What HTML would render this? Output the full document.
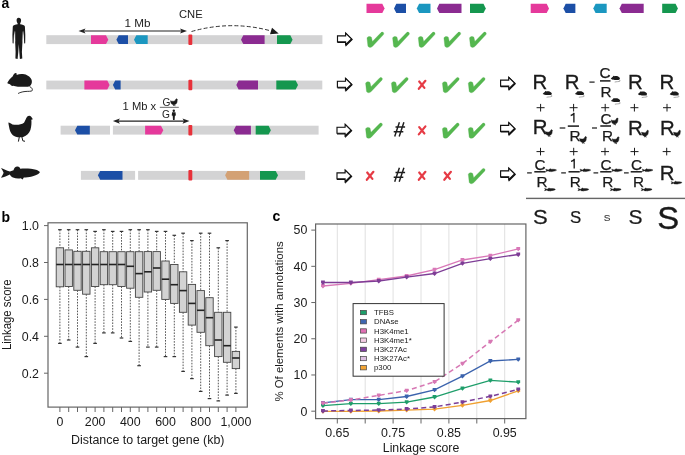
<!DOCTYPE html>
<html><head><meta charset="utf-8"><style>
html,body{margin:0;padding:0;background:#fff;}
body{width:685px;height:455px;overflow:hidden;font-family:"Liberation Sans",sans-serif;}
svg{display:block;will-change:transform;}
</style></head><body>
<svg width="685" height="455" viewBox="0 0 685 455">
<rect width="685" height="455" fill="#fff"/>
<text x="1.6" y="7.7" font-size="14" font-weight="bold" font-family="Liberation Sans, sans-serif">a</text>
<path d="M366.5,3.8H382.3L384.6,8.4L382.3,13.0H366.5Z" fill="#e5399b"/>
<path d="M406,3.8H396.3L394,8.4L396.3,13.0H406Z" fill="#1c4fa6"/>
<path d="M430.5,3.8H419.1L416.8,8.4L419.1,13.0H430.5Z" fill="#1b97c0"/>
<path d="M461.5,3.8H439.3L437,8.4L439.3,13.0H461.5Z" fill="#8b2b91"/>
<path d="M470,3.8H483.5L485.8,8.4L483.5,13.0H470Z" fill="#15974f"/>
<path d="M530.7,3.8H546.7L549,8.4L546.7,13.0H530.7Z" fill="#e5399b"/>
<path d="M575.4,3.8H565.6999999999999L563.4,8.4L565.6999999999999,13.0H575.4Z" fill="#1c4fa6"/>
<path d="M606.7,3.8H595.5999999999999L593.3,8.4L595.5999999999999,13.0H606.7Z" fill="#1b97c0"/>
<path d="M643.7,3.8H621.8L619.5,8.4L621.8,13.0H643.7Z" fill="#8b2b91"/>
<path d="M662.2,3.8H675.6L677.9,8.4L675.6,13.0H662.2Z" fill="#15974f"/>
<rect x="46.3" y="35.2" width="276.09999999999997" height="8.899999999999999" fill="#d3d3d4"/>
<path d="M91,35.2H106.0L108.3,39.650000000000006L106.0,44.1H91Z" fill="#e5399b"/>
<path d="M128,35.2H118.7L116.4,39.650000000000006L118.7,44.1H128Z" fill="#1c4fa6"/>
<path d="M147.7,35.2H136.3L134,39.650000000000006L136.3,44.1H147.7Z" fill="#1b97c0"/>
<path d="M264.6,35.2H243.3L241,39.650000000000006L243.3,44.1H264.6Z" fill="#8b2b91"/>
<path d="M277,35.2H290.3L292.6,39.650000000000006L290.3,44.1H277Z" fill="#15974f"/>
<rect x="188.4" y="34.400000000000006" width="3.9" height="10.499999999999998" rx="1" fill="#e8313a"/>
<rect x="46.3" y="80.6" width="276.0" height="8.800000000000011" fill="#d3d3d4"/>
<path d="M84.4,80.6H107.3L109.6,85.0L107.3,89.4H84.4Z" fill="#e5399b"/>
<path d="M120.6,80.6H115.2L112.9,85.0L115.2,89.4H120.6Z" fill="#1c4fa6"/>
<path d="M258,80.6H238.60000000000002L236.3,85.0L238.60000000000002,89.4H258Z" fill="#8b2b91"/>
<path d="M276.3,80.6H295.7L298,85.0L295.7,89.4H276.3Z" fill="#15974f"/>
<rect x="188.4" y="79.8" width="3.9" height="10.400000000000011" rx="1" fill="#e8313a"/>
<rect x="60.6" y="125.7" width="49.4" height="8.899999999999991" fill="#d3d3d4"/>
<rect x="112.9" y="125.7" width="205.70000000000002" height="8.899999999999991" fill="#d3d3d4"/>
<path d="M89.8,125.7H77.3L75,130.15L77.3,134.6H89.8Z" fill="#1c4fa6"/>
<path d="M145.1,125.7H161.0L163.3,130.15L161.0,134.6H145.1Z" fill="#e5399b"/>
<path d="M250.9,125.7H236.0L233.7,130.15L236.0,134.6H250.9Z" fill="#8b2b91"/>
<path d="M255.7,125.7H268.59999999999997L270.9,130.15L268.59999999999997,134.6H255.7Z" fill="#15974f"/>
<rect x="188.4" y="124.9" width="3.9" height="10.499999999999991" rx="1" fill="#e8313a"/>
<rect x="80.9" y="170.9" width="54.19999999999999" height="8.900000000000006" fill="#d3d3d4"/>
<rect x="138.1" y="170.9" width="167.00000000000003" height="8.900000000000006" fill="#d3d3d4"/>
<path d="M122.5,170.9H100.2L97.9,175.35000000000002L100.2,179.8H122.5Z" fill="#1c4fa6"/>
<path d="M249.1,170.9H227.4L225.1,175.35000000000002L227.4,179.8H249.1Z" fill="#d3a174"/>
<path d="M260,170.9H275.7L278,175.35000000000002L275.7,179.8H260Z" fill="#15974f"/>
<rect x="188.4" y="170.1" width="3.9" height="10.500000000000005" rx="1" fill="#e8313a"/>
<line x1="81.5" y1="31" x2="184" y2="31" stroke="#222" stroke-width="1.1"/><path d="M78.5,31L85.5,28.4L84.0,31L85.5,33.6Z" fill="#222"/><path d="M187,31L180,28.4L181.5,31L180,33.6Z" fill="#222"/>
<line x1="115.9" y1="121.1" x2="186.5" y2="121.1" stroke="#222" stroke-width="1.1"/><path d="M112.9,121.1L119.9,118.5L118.4,121.1L119.9,123.69999999999999Z" fill="#222"/><path d="M189.5,121.1L182.5,118.5L184.0,121.1L182.5,123.69999999999999Z" fill="#222"/>
<path d="M191.5,31.5 Q232,20 272,31.2" fill="none" stroke="#333" stroke-width="1" stroke-dasharray="4,2.2"/>
<path d="M278.7,33.6L270.0,34.2L272.0,27.8Z" fill="#1a1a1a"/>
<text x="124.6" y="26.9" font-size="11.7" font-family="Liberation Sans, sans-serif" fill="#222">1 Mb</text>
<text x="179" y="17.9" font-size="11.2" font-family="Liberation Sans, sans-serif" fill="#222">CNE</text>
<text x="122.6" y="110.2" font-size="11.2" font-family="Liberation Sans, sans-serif" fill="#222">1 Mb x</text>
<text x="162.4" y="105.5" font-size="10.2" font-family="Liberation Sans, sans-serif" fill="#222">G</text>
<text x="162.0" y="118.4" font-size="10.2" font-family="Liberation Sans, sans-serif" fill="#222">G</text>
<rect x="159.8" y="106.8" width="19" height="1.1" fill="#777"/>
<path d="M18.6,17.8 C17.2,17.8 16.6,18.9 16.6,20.3 C16.6,21.6 17.1,22.6 17.6,23.3 L17.6,24.2 C15.5,24.6 13.2,24.8 12.8,26.5 L12.4,35 L12.6,43.2 L13.6,43.4 L13.9,35.5 L14.6,30.5 L15.2,42.8 L15.6,52 L15.4,58.4 L17.6,59 L18.3,52 L18.8,44 L19.3,52 L19.9,59 L22.3,58.6 L21.9,52 L22.4,42.8 L23.1,30.5 L23.8,35.5 L24.2,43.4 L25.2,43.2 L25.3,35 L24.9,26.5 C24.5,24.8 22.2,24.6 20.2,24.2 L20.2,23.3 C20.7,22.6 21.1,21.6 21.1,20.3 C21.1,18.9 20.3,17.8 18.6,17.8Z" fill="#1a1a1a"/>
<path d="M15.1,31.5 L15.3,41.5 M22.6,31.5 L22.4,41.5" stroke="#fff" stroke-width="0.45" stroke-opacity="0.6" fill="none"/>
<path d="M7.3,83.1 C8.5,80.5 10,78.5 12.8,76.2 C13.4,74.5 14.6,73 15.9,73.1 C16.8,73.2 16.9,74.2 16.6,74.9 C19.5,73.8 24,73.8 27,75.2 C30.2,76.8 32.2,79.2 31.9,82 C31.7,84.5 30.2,86.3 28,86.7 L18,86.7 C16,86.6 14.5,86.2 13.2,85.8 L12.2,86 C11.2,85.6 10.5,84.9 10,84.3 C9,84.2 7.8,83.9 7.3,83.1Z" fill="#1a1a1a"/>
<path d="M29.6,86.6 C31.5,87.3 32.8,89 32.2,90.6 C31.4,91.6 28,91.2 25,91.5 C22,91.8 19.5,92.7 18.1,93.5" fill="none" stroke="#1a1a1a" stroke-width="0.9"/>
<path d="M8.4,122.6 C9.8,122.6 11,123.8 12.4,124.4 C16,125.3 21,125 24,122.8 C25.2,121.4 25.8,118.2 27.3,116.6 C28.5,115.4 30.3,115.5 31.2,116.8 L32.9,119.2 L31.3,119.7 C31.7,122 31.5,126.5 30.4,130 C29.2,133.2 26.8,135.8 23.2,136.9 C19.5,137.8 15,137.2 12.6,135 C10.6,133.2 9.4,129.5 9.0,126.5 C8.7,124.8 8.4,123.6 8.4,122.6Z" fill="#1a1a1a"/>
<path d="M19.4,136.5 L18.4,141.6 M21.8,136.5 L22.8,140.8 L25,141.3" fill="none" stroke="#1a1a1a" stroke-width="1"/>
<path d="M1,167.9 C3.5,168.8 6.5,170.4 9.9,171.6 L13.5,170.2 C14,167.8 15.5,166.3 17.5,166.4 C19.2,166.5 20,167.5 20.3,168.7 C26,168.2 32,168.7 36,169.8 C38,170.5 39.5,171.4 39.9,172.2 C39,173.8 36.5,175.2 32,176.4 C29,177.1 26,177.4 23.8,177.6 L22.6,179.6 L20.8,178.3 C18.5,178.6 15.5,178.6 13,177.6 C11.5,177 10.5,176 9.9,174.6 C7,176 4,177.3 1,177.8 C2.2,175.8 3.2,174.2 3.6,172.8 C3.1,171.2 2.2,169.5 1,167.9Z" fill="#1a1a1a"/>
<g transform="translate(168.06,67.61) scale(0.29,0.27)"><path d="M8.4,122.6 C9.8,122.6 11,123.8 12.4,124.4 C16,125.3 21,125 24,122.8 C25.2,121.4 25.8,118.2 27.3,116.6 C28.5,115.4 30.3,115.5 31.2,116.8 L32.9,119.2 L31.3,119.7 C31.7,122 31.5,126.5 30.4,130 C29.2,133.2 26.8,135.8 23.2,136.9 C19.5,137.8 15,137.2 12.6,135 C10.6,133.2 9.4,129.5 9.0,126.5 C8.7,124.8 8.4,123.6 8.4,122.6Z" fill="#1a1a1a" stroke="#1a1a1a" stroke-width="1.5"/><path d="M19.4,136.5 L18.4,141.6 M21.8,136.5 L22.8,140.8 L25,141.3" fill="none" stroke="#1a1a1a" stroke-width="3"/></g>
<g transform="translate(171.6,109.6) scale(1.0)"><circle cx="2.2" cy="1.2" r="1.2" fill="#1a1a1a"/><path d="M0.5,2.6 H3.9 L4.3,6 L3.3,6.2 L3,10.4 H1.4 L1.1,6.2 L0.1,6Z" fill="#1a1a1a"/></g>
<path d="M337.5,35.9H345.6V33.1L351.5,38.9L345.6,44.699999999999996V41.9H337.5Z" transform="translate(0.6,0.6)" fill="#111" stroke="#111" stroke-width="1.2" stroke-linejoin="miter" stroke-miterlimit="3"/><path d="M337.5,35.9H345.6V33.1L351.5,38.9L345.6,44.699999999999996V41.9H337.5Z" fill="#fff" stroke="#111" stroke-width="1.15" stroke-linejoin="miter" stroke-miterlimit="3"/>
<path d="M337.4,81.2H345.5V78.4L351.4,84.2L345.5,90.0V87.2H337.4Z" transform="translate(0.6,0.6)" fill="#111" stroke="#111" stroke-width="1.2" stroke-linejoin="miter" stroke-miterlimit="3"/><path d="M337.4,81.2H345.5V78.4L351.4,84.2L345.5,90.0V87.2H337.4Z" fill="#fff" stroke="#111" stroke-width="1.15" stroke-linejoin="miter" stroke-miterlimit="3"/>
<path d="M337.0,127.19999999999999H345.1V124.39999999999999L351.0,130.2L345.1,136.0V133.2H337.0Z" transform="translate(0.6,0.6)" fill="#111" stroke="#111" stroke-width="1.2" stroke-linejoin="miter" stroke-miterlimit="3"/><path d="M337.0,127.19999999999999H345.1V124.39999999999999L351.0,130.2L345.1,136.0V133.2H337.0Z" fill="#fff" stroke="#111" stroke-width="1.15" stroke-linejoin="miter" stroke-miterlimit="3"/>
<path d="M337.0,172.9H345.1V170.1L351.0,175.9L345.1,181.70000000000002V178.9H337.0Z" transform="translate(0.6,0.6)" fill="#111" stroke="#111" stroke-width="1.2" stroke-linejoin="miter" stroke-miterlimit="3"/><path d="M337.0,172.9H345.1V170.1L351.0,175.9L345.1,181.70000000000002V178.9H337.0Z" fill="#fff" stroke="#111" stroke-width="1.15" stroke-linejoin="miter" stroke-miterlimit="3"/>
<path d="M500.6,80.1H508.70000000000005V77.3L514.6,83.1L508.70000000000005,88.89999999999999V86.1H500.6Z" transform="translate(0.6,0.6)" fill="#111" stroke="#111" stroke-width="1.2" stroke-linejoin="miter" stroke-miterlimit="3"/><path d="M500.6,80.1H508.70000000000005V77.3L514.6,83.1L508.70000000000005,88.89999999999999V86.1H500.6Z" fill="#fff" stroke="#111" stroke-width="1.15" stroke-linejoin="miter" stroke-miterlimit="3"/>
<path d="M500.6,125.4H508.70000000000005V122.60000000000001L514.6,128.4L508.70000000000005,134.20000000000002V131.4H500.6Z" transform="translate(0.6,0.6)" fill="#111" stroke="#111" stroke-width="1.2" stroke-linejoin="miter" stroke-miterlimit="3"/><path d="M500.6,125.4H508.70000000000005V122.60000000000001L514.6,128.4L508.70000000000005,134.20000000000002V131.4H500.6Z" fill="#fff" stroke="#111" stroke-width="1.15" stroke-linejoin="miter" stroke-miterlimit="3"/>
<path d="M500.6,170.8H508.70000000000005V168.0L514.6,173.8L508.70000000000005,179.60000000000002V176.8H500.6Z" transform="translate(0.6,0.6)" fill="#111" stroke="#111" stroke-width="1.2" stroke-linejoin="miter" stroke-miterlimit="3"/><path d="M500.6,170.8H508.70000000000005V168.0L514.6,173.8L508.70000000000005,179.60000000000002V176.8H500.6Z" fill="#fff" stroke="#111" stroke-width="1.15" stroke-linejoin="miter" stroke-miterlimit="3"/>
<path d="M367.00,38.00 C367.20,36.50 370.40,35.90 371.40,37.20 L372.40,41.40 L381.10,32.60 C382.50,31.30 384.60,32.80 383.50,34.60 L372.60,46.30 C371.20,47.90 368.50,47.80 367.90,46.00 Z" fill="#55b74f" stroke="#4fae4a" stroke-width="0.3"/>
<path d="M392.60,38.00 C392.80,36.50 396.00,35.90 397.00,37.20 L398.00,41.40 L406.70,32.60 C408.10,31.30 410.20,32.80 409.10,34.60 L398.20,46.30 C396.80,47.90 394.10,47.80 393.50,46.00 Z" fill="#55b74f" stroke="#4fae4a" stroke-width="0.3"/>
<path d="M418.30,38.00 C418.50,36.50 421.70,35.90 422.70,37.20 L423.70,41.40 L432.40,32.60 C433.80,31.30 435.90,32.80 434.80,34.60 L423.90,46.30 C422.50,47.90 419.80,47.80 419.20,46.00 Z" fill="#55b74f" stroke="#4fae4a" stroke-width="0.3"/>
<path d="M443.90,38.00 C444.10,36.50 447.30,35.90 448.30,37.20 L449.30,41.40 L458.00,32.60 C459.40,31.30 461.50,32.80 460.40,34.60 L449.50,46.30 C448.10,47.90 445.40,47.80 444.80,46.00 Z" fill="#55b74f" stroke="#4fae4a" stroke-width="0.3"/>
<path d="M469.50,38.00 C469.70,36.50 472.90,35.90 473.90,37.20 L474.90,41.40 L483.60,32.60 C485.00,31.30 487.10,32.80 486.00,34.60 L475.10,46.30 C473.70,47.90 471.00,47.80 470.40,46.00 Z" fill="#55b74f" stroke="#4fae4a" stroke-width="0.3"/>
<path d="M365.60,83.30 C365.80,81.80 369.00,81.20 370.00,82.50 L371.00,86.70 L379.70,77.90 C381.10,76.60 383.20,78.10 382.10,79.90 L371.20,91.60 C369.80,93.20 367.10,93.10 366.50,91.30 Z" fill="#55b74f" stroke="#4fae4a" stroke-width="0.3"/>
<path d="M391.40,83.30 C391.60,81.80 394.80,81.20 395.80,82.50 L396.80,86.70 L405.50,77.90 C406.90,76.60 409.00,78.10 407.90,79.90 L397.00,91.60 C395.60,93.20 392.90,93.10 392.30,91.30 Z" fill="#55b74f" stroke="#4fae4a" stroke-width="0.3"/>
<path d="M419.20,81.50 L424.40,87.90 M425.40,80.80 L418.80,88.80" stroke="#e63b45" stroke-width="2.2" stroke-linecap="round"/>
<path d="M442.40,83.30 C442.60,81.80 445.80,81.20 446.80,82.50 L447.80,86.70 L456.50,77.90 C457.90,76.60 460.00,78.10 458.90,79.90 L448.00,91.60 C446.60,93.20 443.90,93.10 443.30,91.30 Z" fill="#55b74f" stroke="#4fae4a" stroke-width="0.3"/>
<path d="M468.30,83.30 C468.50,81.80 471.70,81.20 472.70,82.50 L473.70,86.70 L482.40,77.90 C483.80,76.60 485.90,78.10 484.80,79.90 L473.90,91.60 C472.50,93.20 469.80,93.10 469.20,91.30 Z" fill="#55b74f" stroke="#4fae4a" stroke-width="0.3"/>
<path d="M365.60,128.90 C365.80,127.40 369.00,126.80 370.00,128.10 L371.00,132.30 L379.70,123.50 C381.10,122.20 383.20,123.70 382.10,125.50 L371.20,137.20 C369.80,138.80 367.10,138.70 366.50,136.90 Z" fill="#55b74f" stroke="#4fae4a" stroke-width="0.3"/>
<path d="M399.4,122.30 L394.7,136.40 M403.9,122.30 L399.2,136.40 M395.5,127.00 H405.1 M393.7,131.80 H403.3" stroke="#1e1e1e" stroke-width="1.45" fill="none"/>
<path d="M419.20,127.10 L424.40,133.50 M425.40,126.40 L418.80,134.40" stroke="#e63b45" stroke-width="2.2" stroke-linecap="round"/>
<path d="M442.40,128.90 C442.60,127.40 445.80,126.80 446.80,128.10 L447.80,132.30 L456.50,123.50 C457.90,122.20 460.00,123.70 458.90,125.50 L448.00,137.20 C446.60,138.80 443.90,138.70 443.30,136.90 Z" fill="#55b74f" stroke="#4fae4a" stroke-width="0.3"/>
<path d="M468.30,128.90 C468.50,127.40 471.70,126.80 472.70,128.10 L473.70,132.30 L482.40,123.50 C483.80,122.20 485.90,123.70 484.80,125.50 L473.90,137.20 C472.50,138.80 469.80,138.70 469.20,136.90 Z" fill="#55b74f" stroke="#4fae4a" stroke-width="0.3"/>
<path d="M367.20,172.50 L372.40,178.90 M373.40,171.80 L366.80,179.80" stroke="#e63b45" stroke-width="2.2" stroke-linecap="round"/>
<path d="M399.4,167.70 L394.7,181.80 M403.9,167.70 L399.2,181.80 M395.5,172.40 H405.1 M393.7,177.20 H403.3" stroke="#1e1e1e" stroke-width="1.45" fill="none"/>
<path d="M419.20,172.50 L424.40,178.90 M425.40,171.80 L418.80,179.80" stroke="#e63b45" stroke-width="2.2" stroke-linecap="round"/>
<path d="M444.70,172.50 L449.90,178.90 M450.90,171.80 L444.30,179.80" stroke="#e63b45" stroke-width="2.2" stroke-linecap="round"/>
<path d="M468.30,174.30 C468.50,172.80 471.70,172.20 472.70,173.50 L473.70,177.70 L482.40,168.90 C483.80,167.60 485.90,169.10 484.80,170.90 L473.90,182.60 C472.50,184.20 469.80,184.10 469.20,182.30 Z" fill="#55b74f" stroke="#4fae4a" stroke-width="0.3"/>
<text x="532.6" y="89.0" font-size="20.4" font-family="Liberation Sans, sans-serif" fill="#1a1a1a" text-anchor="start" stroke="#1a1a1a" stroke-width="0.3">R</text>
<g transform="translate(540.00,69.07) scale(0.37,0.3)"><path d="M7.3,83.1 C8.5,80.5 10,78.5 12.8,76.2 C13.4,74.5 14.6,73 15.9,73.1 C16.8,73.2 16.9,74.2 16.6,74.9 C19.5,73.8 24,73.8 27,75.2 C30.2,76.8 32.2,79.2 31.9,82 C31.7,84.5 30.2,86.3 28,86.7 L18,86.7 C16,86.6 14.5,86.2 13.2,85.8 L12.2,86 C11.2,85.6 10.5,84.9 10,84.3 C9,84.2 7.8,83.9 7.3,83.1Z" fill="#1a1a1a"/><path d="M29.6,86.5 C31.5,87.6 33,89.5 31.8,91.2 C30,92.8 22,92.4 17.8,94" fill="none" stroke="#888" stroke-width="2.2"/></g>
<text x="564.8" y="89.0" font-size="20.4" font-family="Liberation Sans, sans-serif" fill="#1a1a1a" text-anchor="start" stroke="#1a1a1a" stroke-width="0.3">R</text>
<g transform="translate(572.30,69.07) scale(0.37,0.3)"><path d="M7.3,83.1 C8.5,80.5 10,78.5 12.8,76.2 C13.4,74.5 14.6,73 15.9,73.1 C16.8,73.2 16.9,74.2 16.6,74.9 C19.5,73.8 24,73.8 27,75.2 C30.2,76.8 32.2,79.2 31.9,82 C31.7,84.5 30.2,86.3 28,86.7 L18,86.7 C16,86.6 14.5,86.2 13.2,85.8 L12.2,86 C11.2,85.6 10.5,84.9 10,84.3 C9,84.2 7.8,83.9 7.3,83.1Z" fill="#1a1a1a"/><path d="M29.6,86.5 C31.5,87.6 33,89.5 31.8,91.2 C30,92.8 22,92.4 17.8,94" fill="none" stroke="#888" stroke-width="2.2"/></g>
<rect x="589.4" y="81.5" width="5.2000000000000455" height="1.2" fill="#1a1a1a"/>
<text x="599.4" y="77.6" font-size="15.3" font-family="Liberation Sans, sans-serif" fill="#1a1a1a" text-anchor="start" stroke="#1a1a1a" stroke-width="0.25">C</text>
<g transform="translate(608.10,53.87) scale(0.37,0.3)"><path d="M7.3,83.1 C8.5,80.5 10,78.5 12.8,76.2 C13.4,74.5 14.6,73 15.9,73.1 C16.8,73.2 16.9,74.2 16.6,74.9 C19.5,73.8 24,73.8 27,75.2 C30.2,76.8 32.2,79.2 31.9,82 C31.7,84.5 30.2,86.3 28,86.7 L18,86.7 C16,86.6 14.5,86.2 13.2,85.8 L12.2,86 C11.2,85.6 10.5,84.9 10,84.3 C9,84.2 7.8,83.9 7.3,83.1Z" fill="#1a1a1a"/><path d="M29.6,86.5 C31.5,87.6 33,89.5 31.8,91.2 C30,92.8 22,92.4 17.8,94" fill="none" stroke="#888" stroke-width="2.2"/></g>
<rect x="600" y="80.15" width="10.5" height="1.5" fill="#1a1a1a"/>
<text x="600.5" y="96.6" font-size="15.3" font-family="Liberation Sans, sans-serif" fill="#1a1a1a" text-anchor="start" stroke="#1a1a1a" stroke-width="0.25">R</text>
<g transform="translate(608.30,76.07) scale(0.37,0.3)"><path d="M7.3,83.1 C8.5,80.5 10,78.5 12.8,76.2 C13.4,74.5 14.6,73 15.9,73.1 C16.8,73.2 16.9,74.2 16.6,74.9 C19.5,73.8 24,73.8 27,75.2 C30.2,76.8 32.2,79.2 31.9,82 C31.7,84.5 30.2,86.3 28,86.7 L18,86.7 C16,86.6 14.5,86.2 13.2,85.8 L12.2,86 C11.2,85.6 10.5,84.9 10,84.3 C9,84.2 7.8,83.9 7.3,83.1Z" fill="#1a1a1a"/><path d="M29.6,86.5 C31.5,87.6 33,89.5 31.8,91.2 C30,92.8 22,92.4 17.8,94" fill="none" stroke="#888" stroke-width="2.2"/></g>
<text x="627.9" y="89.0" font-size="20.4" font-family="Liberation Sans, sans-serif" fill="#1a1a1a" text-anchor="start" stroke="#1a1a1a" stroke-width="0.3">R</text>
<g transform="translate(635.20,69.37) scale(0.37,0.3)"><path d="M7.3,83.1 C8.5,80.5 10,78.5 12.8,76.2 C13.4,74.5 14.6,73 15.9,73.1 C16.8,73.2 16.9,74.2 16.6,74.9 C19.5,73.8 24,73.8 27,75.2 C30.2,76.8 32.2,79.2 31.9,82 C31.7,84.5 30.2,86.3 28,86.7 L18,86.7 C16,86.6 14.5,86.2 13.2,85.8 L12.2,86 C11.2,85.6 10.5,84.9 10,84.3 C9,84.2 7.8,83.9 7.3,83.1Z" fill="#1a1a1a"/><path d="M29.6,86.5 C31.5,87.6 33,89.5 31.8,91.2 C30,92.8 22,92.4 17.8,94" fill="none" stroke="#888" stroke-width="2.2"/></g>
<text x="659.6" y="89.0" font-size="20.4" font-family="Liberation Sans, sans-serif" fill="#1a1a1a" text-anchor="start" stroke="#1a1a1a" stroke-width="0.3">R</text>
<g transform="translate(667.00,69.37) scale(0.37,0.3)"><path d="M7.3,83.1 C8.5,80.5 10,78.5 12.8,76.2 C13.4,74.5 14.6,73 15.9,73.1 C16.8,73.2 16.9,74.2 16.6,74.9 C19.5,73.8 24,73.8 27,75.2 C30.2,76.8 32.2,79.2 31.9,82 C31.7,84.5 30.2,86.3 28,86.7 L18,86.7 C16,86.6 14.5,86.2 13.2,85.8 L12.2,86 C11.2,85.6 10.5,84.9 10,84.3 C9,84.2 7.8,83.9 7.3,83.1Z" fill="#1a1a1a"/><path d="M29.6,86.5 C31.5,87.6 33,89.5 31.8,91.2 C30,92.8 22,92.4 17.8,94" fill="none" stroke="#888" stroke-width="2.2"/></g>
<path d="M536.6,107.7H544.6M540.6,103.9V111.5" stroke="#1a1a1a" stroke-width="1"/>
<path d="M569.6,107.7H577.6M573.6,103.9V111.5" stroke="#1a1a1a" stroke-width="1"/>
<path d="M601.2,107.7H609.2M605.2,103.9V111.5" stroke="#1a1a1a" stroke-width="1"/>
<path d="M630.4,107.7H638.4M634.4,103.9V111.5" stroke="#1a1a1a" stroke-width="1"/>
<path d="M663.0,107.7H671.0M667.0,103.9V111.5" stroke="#1a1a1a" stroke-width="1"/>
<text x="532.8" y="133.8" font-size="20.4" font-family="Liberation Sans, sans-serif" fill="#1a1a1a" text-anchor="start" stroke="#1a1a1a" stroke-width="0.3">R</text>
<g transform="translate(543.06,98.41) scale(0.29,0.27)"><path d="M8.4,122.6 C9.8,122.6 11,123.8 12.4,124.4 C16,125.3 21,125 24,122.8 C25.2,121.4 25.8,118.2 27.3,116.6 C28.5,115.4 30.3,115.5 31.2,116.8 L32.9,119.2 L31.3,119.7 C31.7,122 31.5,126.5 30.4,130 C29.2,133.2 26.8,135.8 23.2,136.9 C19.5,137.8 15,137.2 12.6,135 C10.6,133.2 9.4,129.5 9.0,126.5 C8.7,124.8 8.4,123.6 8.4,122.6Z" fill="#1a1a1a" stroke="#1a1a1a" stroke-width="1.5"/><path d="M19.4,136.5 L18.4,141.6 M21.8,136.5 L22.8,140.8 L25,141.3" fill="none" stroke="#1a1a1a" stroke-width="3"/></g>
<rect x="559.7" y="127.4" width="5.599999999999909" height="1.2" fill="#1a1a1a"/>
<path d="M573.9,122.4 V113.2 M574.3,112.9 C573.3,114.5 571.9,115.30000000000001 570.6999999999999,115.5" stroke="#1a1a1a" stroke-width="1.35" fill="none"/>
<rect x="567.8" y="125.35" width="11.200000000000045" height="1.5" fill="#1a1a1a"/>
<text x="569.6" y="141.2" font-size="15.3" font-family="Liberation Sans, sans-serif" fill="#1a1a1a" text-anchor="start" stroke="#1a1a1a" stroke-width="0.25">R</text>
<g transform="translate(577.16,105.31) scale(0.29,0.27)"><path d="M8.4,122.6 C9.8,122.6 11,123.8 12.4,124.4 C16,125.3 21,125 24,122.8 C25.2,121.4 25.8,118.2 27.3,116.6 C28.5,115.4 30.3,115.5 31.2,116.8 L32.9,119.2 L31.3,119.7 C31.7,122 31.5,126.5 30.4,130 C29.2,133.2 26.8,135.8 23.2,136.9 C19.5,137.8 15,137.2 12.6,135 C10.6,133.2 9.4,129.5 9.0,126.5 C8.7,124.8 8.4,123.6 8.4,122.6Z" fill="#1a1a1a" stroke="#1a1a1a" stroke-width="1.5"/><path d="M19.4,136.5 L18.4,141.6 M21.8,136.5 L22.8,140.8 L25,141.3" fill="none" stroke="#1a1a1a" stroke-width="3"/></g>
<rect x="592" y="127.4" width="5" height="1.2" fill="#1a1a1a"/>
<text x="600.4" y="123.6" font-size="15.3" font-family="Liberation Sans, sans-serif" fill="#1a1a1a" text-anchor="start" stroke="#1a1a1a" stroke-width="0.25">C</text>
<g transform="translate(608.76,86.81) scale(0.29,0.27)"><path d="M8.4,122.6 C9.8,122.6 11,123.8 12.4,124.4 C16,125.3 21,125 24,122.8 C25.2,121.4 25.8,118.2 27.3,116.6 C28.5,115.4 30.3,115.5 31.2,116.8 L32.9,119.2 L31.3,119.7 C31.7,122 31.5,126.5 30.4,130 C29.2,133.2 26.8,135.8 23.2,136.9 C19.5,137.8 15,137.2 12.6,135 C10.6,133.2 9.4,129.5 9.0,126.5 C8.7,124.8 8.4,123.6 8.4,122.6Z" fill="#1a1a1a" stroke="#1a1a1a" stroke-width="1.5"/><path d="M19.4,136.5 L18.4,141.6 M21.8,136.5 L22.8,140.8 L25,141.3" fill="none" stroke="#1a1a1a" stroke-width="3"/></g>
<rect x="600.3" y="125.25" width="10.700000000000045" height="1.5" fill="#1a1a1a"/>
<text x="602.0" y="141.0" font-size="15.3" font-family="Liberation Sans, sans-serif" fill="#1a1a1a" text-anchor="start" stroke="#1a1a1a" stroke-width="0.25">R</text>
<g transform="translate(609.76,105.62) scale(0.29,0.27)"><path d="M8.4,122.6 C9.8,122.6 11,123.8 12.4,124.4 C16,125.3 21,125 24,122.8 C25.2,121.4 25.8,118.2 27.3,116.6 C28.5,115.4 30.3,115.5 31.2,116.8 L32.9,119.2 L31.3,119.7 C31.7,122 31.5,126.5 30.4,130 C29.2,133.2 26.8,135.8 23.2,136.9 C19.5,137.8 15,137.2 12.6,135 C10.6,133.2 9.4,129.5 9.0,126.5 C8.7,124.8 8.4,123.6 8.4,122.6Z" fill="#1a1a1a" stroke="#1a1a1a" stroke-width="1.5"/><path d="M19.4,136.5 L18.4,141.6 M21.8,136.5 L22.8,140.8 L25,141.3" fill="none" stroke="#1a1a1a" stroke-width="3"/></g>
<text x="628.0" y="134.6" font-size="20.4" font-family="Liberation Sans, sans-serif" fill="#1a1a1a" text-anchor="start" stroke="#1a1a1a" stroke-width="0.3">R</text>
<g transform="translate(639.16,99.01) scale(0.29,0.27)"><path d="M8.4,122.6 C9.8,122.6 11,123.8 12.4,124.4 C16,125.3 21,125 24,122.8 C25.2,121.4 25.8,118.2 27.3,116.6 C28.5,115.4 30.3,115.5 31.2,116.8 L32.9,119.2 L31.3,119.7 C31.7,122 31.5,126.5 30.4,130 C29.2,133.2 26.8,135.8 23.2,136.9 C19.5,137.8 15,137.2 12.6,135 C10.6,133.2 9.4,129.5 9.0,126.5 C8.7,124.8 8.4,123.6 8.4,122.6Z" fill="#1a1a1a" stroke="#1a1a1a" stroke-width="1.5"/><path d="M19.4,136.5 L18.4,141.6 M21.8,136.5 L22.8,140.8 L25,141.3" fill="none" stroke="#1a1a1a" stroke-width="3"/></g>
<text x="660.1" y="134.6" font-size="20.4" font-family="Liberation Sans, sans-serif" fill="#1a1a1a" text-anchor="start" stroke="#1a1a1a" stroke-width="0.3">R</text>
<g transform="translate(671.16,99.01) scale(0.29,0.27)"><path d="M8.4,122.6 C9.8,122.6 11,123.8 12.4,124.4 C16,125.3 21,125 24,122.8 C25.2,121.4 25.8,118.2 27.3,116.6 C28.5,115.4 30.3,115.5 31.2,116.8 L32.9,119.2 L31.3,119.7 C31.7,122 31.5,126.5 30.4,130 C29.2,133.2 26.8,135.8 23.2,136.9 C19.5,137.8 15,137.2 12.6,135 C10.6,133.2 9.4,129.5 9.0,126.5 C8.7,124.8 8.4,123.6 8.4,122.6Z" fill="#1a1a1a" stroke="#1a1a1a" stroke-width="1.5"/><path d="M19.4,136.5 L18.4,141.6 M21.8,136.5 L22.8,140.8 L25,141.3" fill="none" stroke="#1a1a1a" stroke-width="3"/></g>
<path d="M536.5,151.6H544.5M540.5,147.79999999999998V155.4" stroke="#1a1a1a" stroke-width="1"/>
<path d="M569.7,151.6H577.7M573.7,147.79999999999998V155.4" stroke="#1a1a1a" stroke-width="1"/>
<path d="M601.0,151.6H609.0M605.0,147.79999999999998V155.4" stroke="#1a1a1a" stroke-width="1"/>
<path d="M630.5,151.6H638.5M634.5,147.79999999999998V155.4" stroke="#1a1a1a" stroke-width="1"/>
<path d="M662.7,151.6H670.7M666.7,147.79999999999998V155.4" stroke="#1a1a1a" stroke-width="1"/>
<rect x="527.1" y="172.3" width="4.7000000000000455" height="1.2" fill="#1a1a1a"/>
<text x="534.5999999999999" y="169.5" font-size="15.3" font-family="Liberation Sans, sans-serif" fill="#1a1a1a" text-anchor="start" stroke="#1a1a1a" stroke-width="0.25">C</text>
<rect x="534.3" y="171.05" width="11.200000000000045" height="1.5" fill="#1a1a1a"/>
<text x="536.4" y="186.6" font-size="15.3" font-family="Liberation Sans, sans-serif" fill="#1a1a1a" text-anchor="start" stroke="#1a1a1a" stroke-width="0.25">R</text>
<g transform="translate(545.42,128.76) scale(0.28,0.24)"><path d="M1,167.9 C3.5,168.8 6.5,170.4 9.9,171.6 L13.5,170.2 C14,167.8 15.5,166.3 17.5,166.4 C19.2,166.5 20,167.5 20.3,168.7 C26,168.2 32,168.7 36,169.8 C38,170.5 39.5,171.4 39.9,172.2 C39,173.8 36.5,175.2 32,176.4 C29,177.1 26,177.4 23.8,177.6 L22.6,179.6 L20.8,178.3 C18.5,178.6 15.5,178.6 13,177.6 C11.5,177 10.5,176 9.9,174.6 C7,176 4,177.3 1,177.8 C2.2,175.8 3.2,174.2 3.6,172.8 C3.1,171.2 2.2,169.5 1,167.9Z" fill="#1a1a1a" stroke="#1a1a1a" stroke-width="1.5"/></g>
<g transform="translate(544.22,148.06) scale(0.28,0.24)"><path d="M1,167.9 C3.5,168.8 6.5,170.4 9.9,171.6 L13.5,170.2 C14,167.8 15.5,166.3 17.5,166.4 C19.2,166.5 20,167.5 20.3,168.7 C26,168.2 32,168.7 36,169.8 C38,170.5 39.5,171.4 39.9,172.2 C39,173.8 36.5,175.2 32,176.4 C29,177.1 26,177.4 23.8,177.6 L22.6,179.6 L20.8,178.3 C18.5,178.6 15.5,178.6 13,177.6 C11.5,177 10.5,176 9.9,174.6 C7,176 4,177.3 1,177.8 C2.2,175.8 3.2,174.2 3.6,172.8 C3.1,171.2 2.2,169.5 1,167.9Z" fill="#1a1a1a" stroke="#1a1a1a" stroke-width="1.5"/></g>
<rect x="561.2" y="172.3" width="4.7000000000000455" height="1.2" fill="#1a1a1a"/>
<path d="M574.2,168.6 V159.10000000000002 M574.6,158.8 C573.6,160.4 572.2,161.20000000000002 571.0,161.4" stroke="#1a1a1a" stroke-width="1.35" fill="none"/>
<rect x="568.5" y="171.05" width="11.200000000000045" height="1.5" fill="#1a1a1a"/>
<text x="569.8" y="186.6" font-size="15.3" font-family="Liberation Sans, sans-serif" fill="#1a1a1a" text-anchor="start" stroke="#1a1a1a" stroke-width="0.25">R</text>
<g transform="translate(579.62,128.76) scale(0.28,0.24)"><path d="M1,167.9 C3.5,168.8 6.5,170.4 9.9,171.6 L13.5,170.2 C14,167.8 15.5,166.3 17.5,166.4 C19.2,166.5 20,167.5 20.3,168.7 C26,168.2 32,168.7 36,169.8 C38,170.5 39.5,171.4 39.9,172.2 C39,173.8 36.5,175.2 32,176.4 C29,177.1 26,177.4 23.8,177.6 L22.6,179.6 L20.8,178.3 C18.5,178.6 15.5,178.6 13,177.6 C11.5,177 10.5,176 9.9,174.6 C7,176 4,177.3 1,177.8 C2.2,175.8 3.2,174.2 3.6,172.8 C3.1,171.2 2.2,169.5 1,167.9Z" fill="#1a1a1a" stroke="#1a1a1a" stroke-width="1.5"/></g>
<g transform="translate(577.62,148.06) scale(0.28,0.24)"><path d="M1,167.9 C3.5,168.8 6.5,170.4 9.9,171.6 L13.5,170.2 C14,167.8 15.5,166.3 17.5,166.4 C19.2,166.5 20,167.5 20.3,168.7 C26,168.2 32,168.7 36,169.8 C38,170.5 39.5,171.4 39.9,172.2 C39,173.8 36.5,175.2 32,176.4 C29,177.1 26,177.4 23.8,177.6 L22.6,179.6 L20.8,178.3 C18.5,178.6 15.5,178.6 13,177.6 C11.5,177 10.5,176 9.9,174.6 C7,176 4,177.3 1,177.8 C2.2,175.8 3.2,174.2 3.6,172.8 C3.1,171.2 2.2,169.5 1,167.9Z" fill="#1a1a1a" stroke="#1a1a1a" stroke-width="1.5"/></g>
<rect x="593.5" y="172.3" width="4.7000000000000455" height="1.2" fill="#1a1a1a"/>
<text x="600.5" y="169.5" font-size="15.3" font-family="Liberation Sans, sans-serif" fill="#1a1a1a" text-anchor="start" stroke="#1a1a1a" stroke-width="0.25">C</text>
<rect x="600.2" y="171.05" width="11.200000000000045" height="1.5" fill="#1a1a1a"/>
<text x="602.1999999999999" y="186.6" font-size="15.3" font-family="Liberation Sans, sans-serif" fill="#1a1a1a" text-anchor="start" stroke="#1a1a1a" stroke-width="0.25">R</text>
<g transform="translate(611.32,128.76) scale(0.28,0.24)"><path d="M1,167.9 C3.5,168.8 6.5,170.4 9.9,171.6 L13.5,170.2 C14,167.8 15.5,166.3 17.5,166.4 C19.2,166.5 20,167.5 20.3,168.7 C26,168.2 32,168.7 36,169.8 C38,170.5 39.5,171.4 39.9,172.2 C39,173.8 36.5,175.2 32,176.4 C29,177.1 26,177.4 23.8,177.6 L22.6,179.6 L20.8,178.3 C18.5,178.6 15.5,178.6 13,177.6 C11.5,177 10.5,176 9.9,174.6 C7,176 4,177.3 1,177.8 C2.2,175.8 3.2,174.2 3.6,172.8 C3.1,171.2 2.2,169.5 1,167.9Z" fill="#1a1a1a" stroke="#1a1a1a" stroke-width="1.5"/></g>
<g transform="translate(610.02,148.06) scale(0.28,0.24)"><path d="M1,167.9 C3.5,168.8 6.5,170.4 9.9,171.6 L13.5,170.2 C14,167.8 15.5,166.3 17.5,166.4 C19.2,166.5 20,167.5 20.3,168.7 C26,168.2 32,168.7 36,169.8 C38,170.5 39.5,171.4 39.9,172.2 C39,173.8 36.5,175.2 32,176.4 C29,177.1 26,177.4 23.8,177.6 L22.6,179.6 L20.8,178.3 C18.5,178.6 15.5,178.6 13,177.6 C11.5,177 10.5,176 9.9,174.6 C7,176 4,177.3 1,177.8 C2.2,175.8 3.2,174.2 3.6,172.8 C3.1,171.2 2.2,169.5 1,167.9Z" fill="#1a1a1a" stroke="#1a1a1a" stroke-width="1.5"/></g>
<rect x="624.0" y="172.3" width="4.7000000000000455" height="1.2" fill="#1a1a1a"/>
<text x="631.0" y="169.5" font-size="15.3" font-family="Liberation Sans, sans-serif" fill="#1a1a1a" text-anchor="start" stroke="#1a1a1a" stroke-width="0.25">C</text>
<rect x="630.7" y="171.05" width="11.200000000000045" height="1.5" fill="#1a1a1a"/>
<text x="633.0999999999999" y="186.6" font-size="15.3" font-family="Liberation Sans, sans-serif" fill="#1a1a1a" text-anchor="start" stroke="#1a1a1a" stroke-width="0.25">R</text>
<g transform="translate(641.82,128.76) scale(0.28,0.24)"><path d="M1,167.9 C3.5,168.8 6.5,170.4 9.9,171.6 L13.5,170.2 C14,167.8 15.5,166.3 17.5,166.4 C19.2,166.5 20,167.5 20.3,168.7 C26,168.2 32,168.7 36,169.8 C38,170.5 39.5,171.4 39.9,172.2 C39,173.8 36.5,175.2 32,176.4 C29,177.1 26,177.4 23.8,177.6 L22.6,179.6 L20.8,178.3 C18.5,178.6 15.5,178.6 13,177.6 C11.5,177 10.5,176 9.9,174.6 C7,176 4,177.3 1,177.8 C2.2,175.8 3.2,174.2 3.6,172.8 C3.1,171.2 2.2,169.5 1,167.9Z" fill="#1a1a1a" stroke="#1a1a1a" stroke-width="1.5"/></g>
<g transform="translate(640.92,148.06) scale(0.28,0.24)"><path d="M1,167.9 C3.5,168.8 6.5,170.4 9.9,171.6 L13.5,170.2 C14,167.8 15.5,166.3 17.5,166.4 C19.2,166.5 20,167.5 20.3,168.7 C26,168.2 32,168.7 36,169.8 C38,170.5 39.5,171.4 39.9,172.2 C39,173.8 36.5,175.2 32,176.4 C29,177.1 26,177.4 23.8,177.6 L22.6,179.6 L20.8,178.3 C18.5,178.6 15.5,178.6 13,177.6 C11.5,177 10.5,176 9.9,174.6 C7,176 4,177.3 1,177.8 C2.2,175.8 3.2,174.2 3.6,172.8 C3.1,171.2 2.2,169.5 1,167.9Z" fill="#1a1a1a" stroke="#1a1a1a" stroke-width="1.5"/></g>
<text x="659.8" y="179.8" font-size="20.4" font-family="Liberation Sans, sans-serif" fill="#1a1a1a" text-anchor="start" stroke="#1a1a1a" stroke-width="0.3">R</text>
<g transform="translate(670.82,141.26) scale(0.28,0.24)"><path d="M1,167.9 C3.5,168.8 6.5,170.4 9.9,171.6 L13.5,170.2 C14,167.8 15.5,166.3 17.5,166.4 C19.2,166.5 20,167.5 20.3,168.7 C26,168.2 32,168.7 36,169.8 C38,170.5 39.5,171.4 39.9,172.2 C39,173.8 36.5,175.2 32,176.4 C29,177.1 26,177.4 23.8,177.6 L22.6,179.6 L20.8,178.3 C18.5,178.6 15.5,178.6 13,177.6 C11.5,177 10.5,176 9.9,174.6 C7,176 4,177.3 1,177.8 C2.2,175.8 3.2,174.2 3.6,172.8 C3.1,171.2 2.2,169.5 1,167.9Z" fill="#1a1a1a" stroke="#1a1a1a" stroke-width="1.5"/></g>
<rect x="526" y="197.7" width="159" height="1.4" fill="#666"/>
<text transform="translate(533.0,224.2) scale(1.06,1)" font-size="20.8" font-family="Liberation Sans, sans-serif" fill="#1a1a1a" stroke="#1a1a1a" stroke-width="0.25">S</text>
<text transform="translate(570.0,223.1) scale(1.08,1)" font-size="15.6" font-family="Liberation Sans, sans-serif" fill="#1a1a1a" stroke="#1a1a1a" stroke-width="0.19">S</text>
<text transform="translate(603.7,221.3) scale(1.05,1)" font-size="9.6" font-family="Liberation Sans, sans-serif" fill="#3a3a3a" stroke="#3a3a3a" stroke-width="0.12">S</text>
<text transform="translate(628.5,224.2) scale(1.05,1)" font-size="20.0" font-family="Liberation Sans, sans-serif" fill="#1a1a1a" stroke="#1a1a1a" stroke-width="0.24">S</text>
<text transform="translate(657.2,228.6) scale(1.06,1)" font-size="31.0" font-family="Liberation Sans, sans-serif" fill="#1a1a1a" stroke="#1a1a1a" stroke-width="0.37">S</text>
<text x="1.6" y="221.7" font-size="14" font-weight="bold" font-family="Liberation Sans, sans-serif">b</text>
<rect x="48" y="222.8" width="199.3" height="184.3" fill="none" stroke="#666" stroke-width="1.2"/>
<line x1="44" y1="225.60" x2="48" y2="225.60" stroke="#666" stroke-width="1"/>
<text x="39.0" y="229.9" font-size="12.4" font-family="Liberation Sans, sans-serif" fill="#1a1a1a" text-anchor="end" >1.0</text>
<line x1="44" y1="262.50" x2="48" y2="262.50" stroke="#666" stroke-width="1"/>
<text x="39.0" y="266.8" font-size="12.4" font-family="Liberation Sans, sans-serif" fill="#1a1a1a" text-anchor="end" >0.8</text>
<line x1="44" y1="299.40" x2="48" y2="299.40" stroke="#666" stroke-width="1"/>
<text x="39.0" y="303.7" font-size="12.4" font-family="Liberation Sans, sans-serif" fill="#1a1a1a" text-anchor="end" >0.6</text>
<line x1="44" y1="336.30" x2="48" y2="336.30" stroke="#666" stroke-width="1"/>
<text x="39.0" y="340.6" font-size="12.4" font-family="Liberation Sans, sans-serif" fill="#1a1a1a" text-anchor="end" >0.4</text>
<line x1="44" y1="373.20" x2="48" y2="373.20" stroke="#666" stroke-width="1"/>
<text x="39.0" y="377.5" font-size="12.4" font-family="Liberation Sans, sans-serif" fill="#1a1a1a" text-anchor="end" >0.2</text>
<line x1="59.90" y1="407" x2="59.90" y2="412" stroke="#666" stroke-width="1"/>
<line x1="68.70" y1="407" x2="68.70" y2="412" stroke="#666" stroke-width="1"/>
<line x1="77.50" y1="407" x2="77.50" y2="412" stroke="#666" stroke-width="1"/>
<line x1="86.30" y1="407" x2="86.30" y2="412" stroke="#666" stroke-width="1"/>
<line x1="95.10" y1="407" x2="95.10" y2="412" stroke="#666" stroke-width="1"/>
<line x1="103.90" y1="407" x2="103.90" y2="412" stroke="#666" stroke-width="1"/>
<line x1="112.70" y1="407" x2="112.70" y2="412" stroke="#666" stroke-width="1"/>
<line x1="121.50" y1="407" x2="121.50" y2="412" stroke="#666" stroke-width="1"/>
<line x1="130.30" y1="407" x2="130.30" y2="412" stroke="#666" stroke-width="1"/>
<line x1="139.10" y1="407" x2="139.10" y2="412" stroke="#666" stroke-width="1"/>
<line x1="147.90" y1="407" x2="147.90" y2="412" stroke="#666" stroke-width="1"/>
<line x1="156.70" y1="407" x2="156.70" y2="412" stroke="#666" stroke-width="1"/>
<line x1="165.50" y1="407" x2="165.50" y2="412" stroke="#666" stroke-width="1"/>
<line x1="174.30" y1="407" x2="174.30" y2="412" stroke="#666" stroke-width="1"/>
<line x1="183.10" y1="407" x2="183.10" y2="412" stroke="#666" stroke-width="1"/>
<line x1="191.90" y1="407" x2="191.90" y2="412" stroke="#666" stroke-width="1"/>
<line x1="200.70" y1="407" x2="200.70" y2="412" stroke="#666" stroke-width="1"/>
<line x1="209.50" y1="407" x2="209.50" y2="412" stroke="#666" stroke-width="1"/>
<line x1="218.30" y1="407" x2="218.30" y2="412" stroke="#666" stroke-width="1"/>
<line x1="227.10" y1="407" x2="227.10" y2="412" stroke="#666" stroke-width="1"/>
<line x1="235.90" y1="407" x2="235.90" y2="412" stroke="#666" stroke-width="1"/>
<text x="59.90" y="425.9" font-size="12.4" font-family="Liberation Sans, sans-serif" fill="#1a1a1a" text-anchor="middle" >0</text>
<text x="95.10" y="425.9" font-size="12.4" font-family="Liberation Sans, sans-serif" fill="#1a1a1a" text-anchor="middle" >200</text>
<text x="130.30" y="425.9" font-size="12.4" font-family="Liberation Sans, sans-serif" fill="#1a1a1a" text-anchor="middle" >400</text>
<text x="165.50" y="425.9" font-size="12.4" font-family="Liberation Sans, sans-serif" fill="#1a1a1a" text-anchor="middle" >600</text>
<text x="200.70" y="425.9" font-size="12.4" font-family="Liberation Sans, sans-serif" fill="#1a1a1a" text-anchor="middle" >800</text>
<text x="235.90" y="425.9" font-size="12.4" font-family="Liberation Sans, sans-serif" fill="#1a1a1a" text-anchor="middle" >1,000</text>
<text x="71" y="443.5" font-size="12" font-family="Liberation Sans, sans-serif" fill="#1a1a1a" text-anchor="start" textLength="153.5" lengthAdjust="spacingAndGlyphs">Distance to target gene (kb)</text>
<text transform="translate(10.5,350) rotate(-90)" font-size="12" font-family="Liberation Sans, sans-serif" fill="#1a1a1a" textLength="70.5" lengthAdjust="spacingAndGlyphs">Linkage score</text>
<line x1="59.90" y1="229.7" x2="59.90" y2="247.8" stroke="#444" stroke-width="0.9" stroke-dasharray="1.6,1.3"/>
<line x1="59.90" y1="286.8" x2="59.90" y2="343.4" stroke="#444" stroke-width="0.9" stroke-dasharray="1.6,1.3"/>
<line x1="58.10" y1="229.7" x2="61.70" y2="229.7" stroke="#333" stroke-width="1.2"/>
<line x1="58.10" y1="343.4" x2="61.70" y2="343.4" stroke="#333" stroke-width="1.2"/>
<rect x="56.20" y="247.8" width="7.4" height="39.00" fill="#d3d3d3" stroke="#444" stroke-width="0.9"/>
<line x1="56.20" y1="264.5" x2="63.60" y2="264.5" stroke="#222" stroke-width="1.6"/>
<line x1="68.70" y1="229.7" x2="68.70" y2="249.9" stroke="#444" stroke-width="0.9" stroke-dasharray="1.6,1.3"/>
<line x1="68.70" y1="286.5" x2="68.70" y2="340.0" stroke="#444" stroke-width="0.9" stroke-dasharray="1.6,1.3"/>
<line x1="66.90" y1="229.7" x2="70.50" y2="229.7" stroke="#333" stroke-width="1.2"/>
<line x1="66.90" y1="340.0" x2="70.50" y2="340.0" stroke="#333" stroke-width="1.2"/>
<rect x="65.00" y="249.9" width="7.4" height="36.60" fill="#d3d3d3" stroke="#444" stroke-width="0.9"/>
<line x1="65.00" y1="264.5" x2="72.40" y2="264.5" stroke="#222" stroke-width="1.6"/>
<line x1="77.50" y1="229.7" x2="77.50" y2="251.3" stroke="#444" stroke-width="0.9" stroke-dasharray="1.6,1.3"/>
<line x1="77.50" y1="290.3" x2="77.50" y2="347.1" stroke="#444" stroke-width="0.9" stroke-dasharray="1.6,1.3"/>
<line x1="75.70" y1="229.7" x2="79.30" y2="229.7" stroke="#333" stroke-width="1.2"/>
<line x1="75.70" y1="347.1" x2="79.30" y2="347.1" stroke="#333" stroke-width="1.2"/>
<rect x="73.80" y="251.3" width="7.4" height="39.00" fill="#d3d3d3" stroke="#444" stroke-width="0.9"/>
<line x1="73.80" y1="264.5" x2="81.20" y2="264.5" stroke="#222" stroke-width="1.6"/>
<line x1="86.30" y1="229.7" x2="86.30" y2="251.3" stroke="#444" stroke-width="0.9" stroke-dasharray="1.6,1.3"/>
<line x1="86.30" y1="294.2" x2="86.30" y2="356.6" stroke="#444" stroke-width="0.9" stroke-dasharray="1.6,1.3"/>
<line x1="84.50" y1="229.7" x2="88.10" y2="229.7" stroke="#333" stroke-width="1.2"/>
<line x1="84.50" y1="356.6" x2="88.10" y2="356.6" stroke="#333" stroke-width="1.2"/>
<rect x="82.60" y="251.3" width="7.4" height="42.90" fill="#d3d3d3" stroke="#444" stroke-width="0.9"/>
<line x1="82.60" y1="264.5" x2="90.00" y2="264.5" stroke="#222" stroke-width="1.6"/>
<line x1="95.10" y1="231.4" x2="95.10" y2="247.8" stroke="#444" stroke-width="0.9" stroke-dasharray="1.6,1.3"/>
<line x1="95.10" y1="286.5" x2="95.10" y2="343.4" stroke="#444" stroke-width="0.9" stroke-dasharray="1.6,1.3"/>
<line x1="93.30" y1="231.4" x2="96.90" y2="231.4" stroke="#333" stroke-width="1.2"/>
<line x1="93.30" y1="343.4" x2="96.90" y2="343.4" stroke="#333" stroke-width="1.2"/>
<rect x="91.40" y="247.8" width="7.4" height="38.70" fill="#d3d3d3" stroke="#444" stroke-width="0.9"/>
<line x1="91.40" y1="264.5" x2="98.80" y2="264.5" stroke="#222" stroke-width="1.6"/>
<line x1="103.90" y1="229.7" x2="103.90" y2="251.7" stroke="#444" stroke-width="0.9" stroke-dasharray="1.6,1.3"/>
<line x1="103.90" y1="284.7" x2="103.90" y2="332.9" stroke="#444" stroke-width="0.9" stroke-dasharray="1.6,1.3"/>
<line x1="102.10" y1="229.7" x2="105.70" y2="229.7" stroke="#333" stroke-width="1.2"/>
<line x1="102.10" y1="332.9" x2="105.70" y2="332.9" stroke="#333" stroke-width="1.2"/>
<rect x="100.20" y="251.7" width="7.4" height="33.00" fill="#d3d3d3" stroke="#444" stroke-width="0.9"/>
<line x1="100.20" y1="264.5" x2="107.60" y2="264.5" stroke="#222" stroke-width="1.6"/>
<line x1="112.70" y1="231.4" x2="112.70" y2="251.7" stroke="#444" stroke-width="0.9" stroke-dasharray="1.6,1.3"/>
<line x1="112.70" y1="284.7" x2="112.70" y2="332.9" stroke="#444" stroke-width="0.9" stroke-dasharray="1.6,1.3"/>
<line x1="110.90" y1="231.4" x2="114.50" y2="231.4" stroke="#333" stroke-width="1.2"/>
<line x1="110.90" y1="332.9" x2="114.50" y2="332.9" stroke="#333" stroke-width="1.2"/>
<rect x="109.00" y="251.7" width="7.4" height="33.00" fill="#d3d3d3" stroke="#444" stroke-width="0.9"/>
<line x1="109.00" y1="264.5" x2="116.40" y2="264.5" stroke="#222" stroke-width="1.6"/>
<line x1="121.50" y1="231.4" x2="121.50" y2="251.7" stroke="#444" stroke-width="0.9" stroke-dasharray="1.6,1.3"/>
<line x1="121.50" y1="286.5" x2="121.50" y2="338.0" stroke="#444" stroke-width="0.9" stroke-dasharray="1.6,1.3"/>
<line x1="119.70" y1="231.4" x2="123.30" y2="231.4" stroke="#333" stroke-width="1.2"/>
<line x1="119.70" y1="338.0" x2="123.30" y2="338.0" stroke="#333" stroke-width="1.2"/>
<rect x="117.80" y="251.7" width="7.4" height="34.80" fill="#d3d3d3" stroke="#444" stroke-width="0.9"/>
<line x1="117.80" y1="264.5" x2="125.20" y2="264.5" stroke="#222" stroke-width="1.6"/>
<line x1="130.30" y1="229.7" x2="130.30" y2="251.7" stroke="#444" stroke-width="0.9" stroke-dasharray="1.6,1.3"/>
<line x1="130.30" y1="288.2" x2="130.30" y2="341.4" stroke="#444" stroke-width="0.9" stroke-dasharray="1.6,1.3"/>
<line x1="128.50" y1="229.7" x2="132.10" y2="229.7" stroke="#333" stroke-width="1.2"/>
<line x1="128.50" y1="341.4" x2="132.10" y2="341.4" stroke="#333" stroke-width="1.2"/>
<rect x="126.60" y="251.7" width="7.4" height="36.50" fill="#d3d3d3" stroke="#444" stroke-width="0.9"/>
<line x1="126.60" y1="266.3" x2="134.00" y2="266.3" stroke="#222" stroke-width="1.6"/>
<line x1="139.10" y1="229.7" x2="139.10" y2="251.7" stroke="#444" stroke-width="0.9" stroke-dasharray="1.6,1.3"/>
<line x1="139.10" y1="297.3" x2="139.10" y2="365.7" stroke="#444" stroke-width="0.9" stroke-dasharray="1.6,1.3"/>
<line x1="137.30" y1="229.7" x2="140.90" y2="229.7" stroke="#333" stroke-width="1.2"/>
<line x1="137.30" y1="365.7" x2="140.90" y2="365.7" stroke="#333" stroke-width="1.2"/>
<rect x="135.40" y="251.7" width="7.4" height="45.60" fill="#d3d3d3" stroke="#444" stroke-width="0.9"/>
<line x1="135.40" y1="273.6" x2="142.80" y2="273.6" stroke="#222" stroke-width="1.6"/>
<line x1="147.90" y1="229.7" x2="147.90" y2="251.6" stroke="#444" stroke-width="0.9" stroke-dasharray="1.6,1.3"/>
<line x1="147.90" y1="292.0" x2="147.90" y2="347.1" stroke="#444" stroke-width="0.9" stroke-dasharray="1.6,1.3"/>
<line x1="146.10" y1="229.7" x2="149.70" y2="229.7" stroke="#333" stroke-width="1.2"/>
<line x1="146.10" y1="347.1" x2="149.70" y2="347.1" stroke="#333" stroke-width="1.2"/>
<rect x="144.20" y="251.6" width="7.4" height="40.40" fill="#d3d3d3" stroke="#444" stroke-width="0.9"/>
<line x1="144.20" y1="271.8" x2="151.60" y2="271.8" stroke="#222" stroke-width="1.6"/>
<line x1="156.70" y1="231.4" x2="156.70" y2="251.6" stroke="#444" stroke-width="0.9" stroke-dasharray="1.6,1.3"/>
<line x1="156.70" y1="290.3" x2="156.70" y2="347.1" stroke="#444" stroke-width="0.9" stroke-dasharray="1.6,1.3"/>
<line x1="154.90" y1="231.4" x2="158.50" y2="231.4" stroke="#333" stroke-width="1.2"/>
<line x1="154.90" y1="347.1" x2="158.50" y2="347.1" stroke="#333" stroke-width="1.2"/>
<rect x="153.00" y="251.6" width="7.4" height="38.70" fill="#d3d3d3" stroke="#444" stroke-width="0.9"/>
<line x1="153.00" y1="268.0" x2="160.40" y2="268.0" stroke="#222" stroke-width="1.6"/>
<line x1="165.50" y1="231.4" x2="165.50" y2="261.0" stroke="#444" stroke-width="0.9" stroke-dasharray="1.6,1.3"/>
<line x1="165.50" y1="299.4" x2="165.50" y2="356.6" stroke="#444" stroke-width="0.9" stroke-dasharray="1.6,1.3"/>
<line x1="163.70" y1="231.4" x2="167.30" y2="231.4" stroke="#333" stroke-width="1.2"/>
<line x1="163.70" y1="356.6" x2="167.30" y2="356.6" stroke="#333" stroke-width="1.2"/>
<rect x="161.80" y="261.0" width="7.4" height="38.40" fill="#d3d3d3" stroke="#444" stroke-width="0.9"/>
<line x1="161.80" y1="279.2" x2="169.20" y2="279.2" stroke="#222" stroke-width="1.6"/>
<line x1="174.30" y1="235.3" x2="174.30" y2="264.5" stroke="#444" stroke-width="0.9" stroke-dasharray="1.6,1.3"/>
<line x1="174.30" y1="303.4" x2="174.30" y2="356.6" stroke="#444" stroke-width="0.9" stroke-dasharray="1.6,1.3"/>
<line x1="172.50" y1="235.3" x2="176.10" y2="235.3" stroke="#333" stroke-width="1.2"/>
<line x1="172.50" y1="356.6" x2="176.10" y2="356.6" stroke="#333" stroke-width="1.2"/>
<rect x="170.60" y="264.5" width="7.4" height="38.90" fill="#d3d3d3" stroke="#444" stroke-width="0.9"/>
<line x1="170.60" y1="284.7" x2="178.00" y2="284.7" stroke="#222" stroke-width="1.6"/>
<line x1="183.10" y1="233.2" x2="183.10" y2="271.8" stroke="#444" stroke-width="0.9" stroke-dasharray="1.6,1.3"/>
<line x1="183.10" y1="312.3" x2="183.10" y2="371.4" stroke="#444" stroke-width="0.9" stroke-dasharray="1.6,1.3"/>
<line x1="181.30" y1="233.2" x2="184.90" y2="233.2" stroke="#333" stroke-width="1.2"/>
<line x1="181.30" y1="371.4" x2="184.90" y2="371.4" stroke="#333" stroke-width="1.2"/>
<rect x="179.40" y="271.8" width="7.4" height="40.50" fill="#d3d3d3" stroke="#444" stroke-width="0.9"/>
<line x1="179.40" y1="290.6" x2="186.80" y2="290.6" stroke="#222" stroke-width="1.6"/>
<line x1="191.90" y1="240.6" x2="191.90" y2="284.4" stroke="#444" stroke-width="0.9" stroke-dasharray="1.6,1.3"/>
<line x1="191.90" y1="325.1" x2="191.90" y2="378.6" stroke="#444" stroke-width="0.9" stroke-dasharray="1.6,1.3"/>
<line x1="190.10" y1="240.6" x2="193.70" y2="240.6" stroke="#333" stroke-width="1.2"/>
<line x1="190.10" y1="378.6" x2="193.70" y2="378.6" stroke="#333" stroke-width="1.2"/>
<rect x="188.20" y="284.4" width="7.4" height="40.70" fill="#d3d3d3" stroke="#444" stroke-width="0.9"/>
<line x1="188.20" y1="303.4" x2="195.60" y2="303.4" stroke="#222" stroke-width="1.6"/>
<line x1="200.70" y1="233.2" x2="200.70" y2="290.6" stroke="#444" stroke-width="0.9" stroke-dasharray="1.6,1.3"/>
<line x1="200.70" y1="332.3" x2="200.70" y2="391.4" stroke="#444" stroke-width="0.9" stroke-dasharray="1.6,1.3"/>
<line x1="198.90" y1="233.2" x2="202.50" y2="233.2" stroke="#333" stroke-width="1.2"/>
<line x1="198.90" y1="391.4" x2="202.50" y2="391.4" stroke="#333" stroke-width="1.2"/>
<rect x="197.00" y="290.6" width="7.4" height="41.70" fill="#d3d3d3" stroke="#444" stroke-width="0.9"/>
<line x1="197.00" y1="310.3" x2="204.40" y2="310.3" stroke="#222" stroke-width="1.6"/>
<line x1="209.50" y1="233.2" x2="209.50" y2="297.7" stroke="#444" stroke-width="0.9" stroke-dasharray="1.6,1.3"/>
<line x1="209.50" y1="345.7" x2="209.50" y2="398.6" stroke="#444" stroke-width="0.9" stroke-dasharray="1.6,1.3"/>
<line x1="207.70" y1="233.2" x2="211.30" y2="233.2" stroke="#333" stroke-width="1.2"/>
<line x1="207.70" y1="398.6" x2="211.30" y2="398.6" stroke="#333" stroke-width="1.2"/>
<rect x="205.80" y="297.7" width="7.4" height="48.00" fill="#d3d3d3" stroke="#444" stroke-width="0.9"/>
<line x1="205.80" y1="317.7" x2="213.20" y2="317.7" stroke="#222" stroke-width="1.6"/>
<line x1="218.30" y1="247.8" x2="218.30" y2="312.3" stroke="#444" stroke-width="0.9" stroke-dasharray="1.6,1.3"/>
<line x1="218.30" y1="356.6" x2="218.30" y2="400.9" stroke="#444" stroke-width="0.9" stroke-dasharray="1.6,1.3"/>
<line x1="216.50" y1="247.8" x2="220.10" y2="247.8" stroke="#333" stroke-width="1.2"/>
<line x1="216.50" y1="400.9" x2="220.10" y2="400.9" stroke="#333" stroke-width="1.2"/>
<rect x="214.60" y="312.3" width="7.4" height="44.30" fill="#d3d3d3" stroke="#444" stroke-width="0.9"/>
<line x1="214.60" y1="340.0" x2="222.00" y2="340.0" stroke="#222" stroke-width="1.6"/>
<line x1="227.10" y1="240.6" x2="227.10" y2="312.3" stroke="#444" stroke-width="0.9" stroke-dasharray="1.6,1.3"/>
<line x1="227.10" y1="362.3" x2="227.10" y2="395.1" stroke="#444" stroke-width="0.9" stroke-dasharray="1.6,1.3"/>
<line x1="225.30" y1="240.6" x2="228.90" y2="240.6" stroke="#333" stroke-width="1.2"/>
<line x1="225.30" y1="395.1" x2="228.90" y2="395.1" stroke="#333" stroke-width="1.2"/>
<rect x="223.40" y="312.3" width="7.4" height="50.00" fill="#d3d3d3" stroke="#444" stroke-width="0.9"/>
<line x1="223.40" y1="345.7" x2="230.80" y2="345.7" stroke="#222" stroke-width="1.6"/>
<line x1="235.90" y1="327.1" x2="235.90" y2="351.4" stroke="#444" stroke-width="0.9" stroke-dasharray="1.6,1.3"/>
<line x1="235.90" y1="368.6" x2="235.90" y2="393.4" stroke="#444" stroke-width="0.9" stroke-dasharray="1.6,1.3"/>
<line x1="234.10" y1="327.1" x2="237.70" y2="327.1" stroke="#333" stroke-width="1.2"/>
<line x1="234.10" y1="393.4" x2="237.70" y2="393.4" stroke="#333" stroke-width="1.2"/>
<rect x="232.20" y="351.4" width="7.4" height="17.20" fill="#d3d3d3" stroke="#444" stroke-width="0.9"/>
<line x1="232.20" y1="358.0" x2="239.60" y2="358.0" stroke="#222" stroke-width="1.6"/>
<text x="272.6" y="221" font-size="14" font-weight="bold" font-family="Liberation Sans, sans-serif">c</text>
<line x1="337.30" y1="224" x2="337.30" y2="418.6" stroke="#ddd" stroke-width="0.9"/>
<line x1="365.20" y1="224" x2="365.20" y2="418.6" stroke="#ddd" stroke-width="0.9"/>
<line x1="393.10" y1="224" x2="393.10" y2="418.6" stroke="#ddd" stroke-width="0.9"/>
<line x1="421.00" y1="224" x2="421.00" y2="418.6" stroke="#ddd" stroke-width="0.9"/>
<line x1="448.90" y1="224" x2="448.90" y2="418.6" stroke="#ddd" stroke-width="0.9"/>
<line x1="476.80" y1="224" x2="476.80" y2="418.6" stroke="#ddd" stroke-width="0.9"/>
<line x1="504.70" y1="224" x2="504.70" y2="418.6" stroke="#ddd" stroke-width="0.9"/>
<rect x="315.6" y="224" width="210.3" height="194.6" fill="none" stroke="#666" stroke-width="1.2"/>
<line x1="311.3" y1="230.10" x2="315.6" y2="230.10" stroke="#666" stroke-width="1"/>
<text x="307.3" y="234.4" font-size="12.4" font-family="Liberation Sans, sans-serif" fill="#1a1a1a" text-anchor="end" >50</text>
<line x1="311.3" y1="266.32" x2="315.6" y2="266.32" stroke="#666" stroke-width="1"/>
<text x="307.3" y="270.62" font-size="12.4" font-family="Liberation Sans, sans-serif" fill="#1a1a1a" text-anchor="end" >40</text>
<line x1="311.3" y1="302.54" x2="315.6" y2="302.54" stroke="#666" stroke-width="1"/>
<text x="307.3" y="306.84" font-size="12.4" font-family="Liberation Sans, sans-serif" fill="#1a1a1a" text-anchor="end" >30</text>
<line x1="311.3" y1="338.76" x2="315.6" y2="338.76" stroke="#666" stroke-width="1"/>
<text x="307.3" y="343.06" font-size="12.4" font-family="Liberation Sans, sans-serif" fill="#1a1a1a" text-anchor="end" >20</text>
<line x1="311.3" y1="374.98" x2="315.6" y2="374.98" stroke="#666" stroke-width="1"/>
<text x="307.3" y="379.28000000000003" font-size="12.4" font-family="Liberation Sans, sans-serif" fill="#1a1a1a" text-anchor="end" >10</text>
<line x1="311.3" y1="411.20" x2="315.6" y2="411.20" stroke="#666" stroke-width="1"/>
<text x="307.3" y="415.5" font-size="12.4" font-family="Liberation Sans, sans-serif" fill="#1a1a1a" text-anchor="end" >0</text>
<line x1="337.30" y1="418.6" x2="337.30" y2="423.5" stroke="#666" stroke-width="1"/>
<line x1="365.20" y1="418.6" x2="365.20" y2="423.5" stroke="#666" stroke-width="1"/>
<line x1="393.10" y1="418.6" x2="393.10" y2="423.5" stroke="#666" stroke-width="1"/>
<line x1="421.00" y1="418.6" x2="421.00" y2="423.5" stroke="#666" stroke-width="1"/>
<line x1="448.90" y1="418.6" x2="448.90" y2="423.5" stroke="#666" stroke-width="1"/>
<line x1="476.80" y1="418.6" x2="476.80" y2="423.5" stroke="#666" stroke-width="1"/>
<line x1="504.70" y1="418.6" x2="504.70" y2="423.5" stroke="#666" stroke-width="1"/>
<text x="337.30" y="437.1" font-size="12.4" font-family="Liberation Sans, sans-serif" fill="#1a1a1a" text-anchor="middle" >0.65</text>
<text x="393.10" y="437.1" font-size="12.4" font-family="Liberation Sans, sans-serif" fill="#1a1a1a" text-anchor="middle" >0.75</text>
<text x="448.90" y="437.1" font-size="12.4" font-family="Liberation Sans, sans-serif" fill="#1a1a1a" text-anchor="middle" >0.85</text>
<text x="504.70" y="437.1" font-size="12.4" font-family="Liberation Sans, sans-serif" fill="#1a1a1a" text-anchor="middle" >0.95</text>
<text x="382.8" y="451.6" font-size="12" font-family="Liberation Sans, sans-serif" fill="#1a1a1a" text-anchor="start" textLength="76.5" lengthAdjust="spacingAndGlyphs">Linkage score</text>
<text transform="translate(283.4,401.6) rotate(-90)" font-size="11.4" font-family="Liberation Sans, sans-serif" fill="#1a1a1a" textLength="160.3" lengthAdjust="spacingAndGlyphs">% Of elements with annotations</text>
<polyline points="322.95,411.4 350.85,411.4 378.75,411.0 406.65,410.1 434.55,409.2 462.45,405.3 490.35,400.5 518.25,390.9" fill="none" stroke="#f0a030" stroke-width="1.3"/>
<path d="M321.05,409.50H324.85V411.80L322.95,413.80L321.05,411.80Z" fill="#f0a030"/>
<path d="M348.95,409.50H352.75V411.80L350.85,413.80L348.95,411.80Z" fill="#f0a030"/>
<path d="M376.85,409.10H380.65V411.40L378.75,413.40L376.85,411.40Z" fill="#f0a030"/>
<path d="M404.75,408.20H408.55V410.50L406.65,412.50L404.75,410.50Z" fill="#f0a030"/>
<path d="M432.65,407.30H436.45V409.60L434.55,411.60L432.65,409.60Z" fill="#f0a030"/>
<path d="M460.55,403.40H464.35V405.70L462.45,407.70L460.55,405.70Z" fill="#f0a030"/>
<path d="M488.45,398.60H492.25V400.90L490.35,402.90L488.45,400.90Z" fill="#f0a030"/>
<path d="M516.35,389.00H520.15V391.30L518.25,393.30L516.35,391.30Z" fill="#f0a030"/>
<polyline points="322.95,411.0 350.85,410.5 378.75,410.1 406.65,409.0 434.55,406.9 462.45,402.1 490.35,396.3 518.25,389.3" fill="none" stroke="#7b3f98" stroke-width="1.5" stroke-dasharray="5,3.2"/>
<path d="M321.05,409.10H324.85V411.40L322.95,413.40L321.05,411.40Z" fill="#7b3f98"/>
<path d="M348.95,408.60H352.75V410.90L350.85,412.90L348.95,410.90Z" fill="#7b3f98"/>
<path d="M376.85,408.20H380.65V410.50L378.75,412.50L376.85,410.50Z" fill="#7b3f98"/>
<path d="M404.75,407.10H408.55V409.40L406.65,411.40L404.75,409.40Z" fill="#7b3f98"/>
<path d="M432.65,405.00H436.45V407.30L434.55,409.30L432.65,407.30Z" fill="#7b3f98"/>
<path d="M460.55,400.20H464.35V402.50L462.45,404.50L460.55,402.50Z" fill="#7b3f98"/>
<path d="M488.45,394.40H492.25V396.70L490.35,398.70L488.45,396.70Z" fill="#7b3f98"/>
<path d="M516.35,387.40H520.15V389.70L518.25,391.70L516.35,389.70Z" fill="#7b3f98"/>
<polyline points="322.95,405.7 350.85,403.7 378.75,403.7 406.65,402.1 434.55,397.0 462.45,388.3 490.35,380.3 518.25,382.2" fill="none" stroke="#1e9e6a" stroke-width="1.3"/>
<path d="M321.05,403.80H324.85V406.10L322.95,408.10L321.05,406.10Z" fill="#1e9e6a"/>
<path d="M348.95,401.80H352.75V404.10L350.85,406.10L348.95,404.10Z" fill="#1e9e6a"/>
<path d="M376.85,401.80H380.65V404.10L378.75,406.10L376.85,404.10Z" fill="#1e9e6a"/>
<path d="M404.75,400.20H408.55V402.50L406.65,404.50L404.75,402.50Z" fill="#1e9e6a"/>
<path d="M432.65,395.10H436.45V397.40L434.55,399.40L432.65,397.40Z" fill="#1e9e6a"/>
<path d="M460.55,386.40H464.35V388.70L462.45,390.70L460.55,388.70Z" fill="#1e9e6a"/>
<path d="M488.45,378.40H492.25V380.70L490.35,382.70L488.45,380.70Z" fill="#1e9e6a"/>
<path d="M516.35,380.30H520.15V382.60L518.25,384.60L516.35,382.60Z" fill="#1e9e6a"/>
<polyline points="322.95,402.9 350.85,399.7 378.75,399.7 406.65,396.5 434.55,389.9 462.45,376.1 490.35,361.0 518.25,359.4" fill="none" stroke="#3b63ad" stroke-width="1.3"/>
<path d="M321.05,401.00H324.85V403.30L322.95,405.30L321.05,403.30Z" fill="#3b63ad"/>
<path d="M348.95,397.80H352.75V400.10L350.85,402.10L348.95,400.10Z" fill="#3b63ad"/>
<path d="M376.85,397.80H380.65V400.10L378.75,402.10L376.85,400.10Z" fill="#3b63ad"/>
<path d="M404.75,394.60H408.55V396.90L406.65,398.90L404.75,396.90Z" fill="#3b63ad"/>
<path d="M432.65,388.00H436.45V390.30L434.55,392.30L432.65,390.30Z" fill="#3b63ad"/>
<path d="M460.55,374.20H464.35V376.50L462.45,378.50L460.55,376.50Z" fill="#3b63ad"/>
<path d="M488.45,359.10H492.25V361.40L490.35,363.40L488.45,361.40Z" fill="#3b63ad"/>
<path d="M516.35,357.50H520.15V359.80L518.25,361.80L516.35,359.80Z" fill="#3b63ad"/>
<polyline points="322.95,403.2 350.85,400.0 378.75,395.4 406.65,390.6 434.55,381.9 462.45,363.6 490.35,341.7 518.25,320.2" fill="none" stroke="#d778b4" stroke-width="1.5" stroke-dasharray="5,3.2"/>
<path d="M321.05,401.30H324.85V403.60L322.95,405.60L321.05,403.60Z" fill="#d778b4"/>
<path d="M348.95,398.10H352.75V400.40L350.85,402.40L348.95,400.40Z" fill="#d778b4"/>
<path d="M376.85,393.50H380.65V395.80L378.75,397.80L376.85,395.80Z" fill="#d778b4"/>
<path d="M404.75,388.70H408.55V391.00L406.65,393.00L404.75,391.00Z" fill="#d778b4"/>
<path d="M432.65,380.00H436.45V382.30L434.55,384.30L432.65,382.30Z" fill="#d778b4"/>
<path d="M460.55,361.70H464.35V364.00L462.45,366.00L460.55,364.00Z" fill="#d778b4"/>
<path d="M488.45,339.80H492.25V342.10L490.35,344.10L488.45,342.10Z" fill="#d778b4"/>
<path d="M516.35,318.30H520.15V320.60L518.25,322.60L516.35,320.60Z" fill="#d778b4"/>
<polyline points="322.95,286.0 350.85,283.3 378.75,279.6 406.65,276.0 434.55,269.7 462.45,260.0 490.35,255.6 518.25,248.9" fill="none" stroke="#d978b8" stroke-width="1.3"/>
<path d="M321.05,284.10H324.85V286.40L322.95,288.40L321.05,286.40Z" fill="#d978b8"/>
<path d="M348.95,281.40H352.75V283.70L350.85,285.70L348.95,283.70Z" fill="#d978b8"/>
<path d="M376.85,277.70H380.65V280.00L378.75,282.00L376.85,280.00Z" fill="#d978b8"/>
<path d="M404.75,274.10H408.55V276.40L406.65,278.40L404.75,276.40Z" fill="#d978b8"/>
<path d="M432.65,267.80H436.45V270.10L434.55,272.10L432.65,270.10Z" fill="#d978b8"/>
<path d="M460.55,258.10H464.35V260.40L462.45,262.40L460.55,260.40Z" fill="#d978b8"/>
<path d="M488.45,253.70H492.25V256.00L490.35,258.00L488.45,256.00Z" fill="#d978b8"/>
<path d="M516.35,247.00H520.15V249.30L518.25,251.30L516.35,249.30Z" fill="#d978b8"/>
<polyline points="322.95,282.5 350.85,282.5 378.75,281.0 406.65,277.2 434.55,273.5 462.45,263.4 490.35,258.6 518.25,254.5" fill="none" stroke="#7e3d96" stroke-width="1.3"/>
<path d="M321.05,280.60H324.85V282.90L322.95,284.90L321.05,282.90Z" fill="#7e3d96"/>
<path d="M348.95,280.60H352.75V282.90L350.85,284.90L348.95,282.90Z" fill="#7e3d96"/>
<path d="M376.85,279.10H380.65V281.40L378.75,283.40L376.85,281.40Z" fill="#7e3d96"/>
<path d="M404.75,275.30H408.55V277.60L406.65,279.60L404.75,277.60Z" fill="#7e3d96"/>
<path d="M432.65,271.60H436.45V273.90L434.55,275.90L432.65,273.90Z" fill="#7e3d96"/>
<path d="M460.55,261.50H464.35V263.80L462.45,265.80L460.55,263.80Z" fill="#7e3d96"/>
<path d="M488.45,256.70H492.25V259.00L490.35,261.00L488.45,259.00Z" fill="#7e3d96"/>
<path d="M516.35,252.60H520.15V254.90L518.25,256.90L516.35,254.90Z" fill="#7e3d96"/>
<rect x="353.1" y="303.6" width="91" height="72.6" fill="#fff" stroke="#333" stroke-width="1"/>
<rect x="360.4" y="310.40" width="6.0" height="4.3" fill="#1e9e6a" stroke="#444" stroke-width="0.7"/>
<text x="374.0" y="315.10" font-size="7.8" font-family="Liberation Sans, sans-serif" fill="#1a1a1a" text-anchor="start" >TFBS</text>
<rect x="360.4" y="319.60" width="6.0" height="4.3" fill="#3e66b0" stroke="#444" stroke-width="0.7"/>
<text x="374.0" y="324.30" font-size="7.8" font-family="Liberation Sans, sans-serif" fill="#1a1a1a" text-anchor="start" >DNAse</text>
<rect x="360.4" y="328.80" width="6.0" height="4.3" fill="#e070b4" stroke="#444" stroke-width="0.7"/>
<text x="374.0" y="333.50" font-size="7.8" font-family="Liberation Sans, sans-serif" fill="#1a1a1a" text-anchor="start" >H3K4me1</text>
<rect x="360.4" y="338.00" width="6.0" height="4.3" fill="#f3cde4" stroke="#444" stroke-width="0.7"/>
<text x="374.0" y="342.70" font-size="7.8" font-family="Liberation Sans, sans-serif" fill="#1a1a1a" text-anchor="start" >H3K4me1*</text>
<rect x="360.4" y="347.20" width="6.0" height="4.3" fill="#8040a0" stroke="#444" stroke-width="0.7"/>
<text x="374.0" y="351.90" font-size="7.8" font-family="Liberation Sans, sans-serif" fill="#1a1a1a" text-anchor="start" >H3K27Ac</text>
<rect x="360.4" y="356.40" width="6.0" height="4.3" fill="#dcbfe2" stroke="#444" stroke-width="0.7"/>
<text x="374.0" y="361.10" font-size="7.8" font-family="Liberation Sans, sans-serif" fill="#1a1a1a" text-anchor="start" >H3K27Ac*</text>
<rect x="360.4" y="365.60" width="6.0" height="4.3" fill="#f2a434" stroke="#444" stroke-width="0.7"/>
<text x="374.0" y="370.30" font-size="7.8" font-family="Liberation Sans, sans-serif" fill="#1a1a1a" text-anchor="start" >p300</text>
</svg>
</body></html>
